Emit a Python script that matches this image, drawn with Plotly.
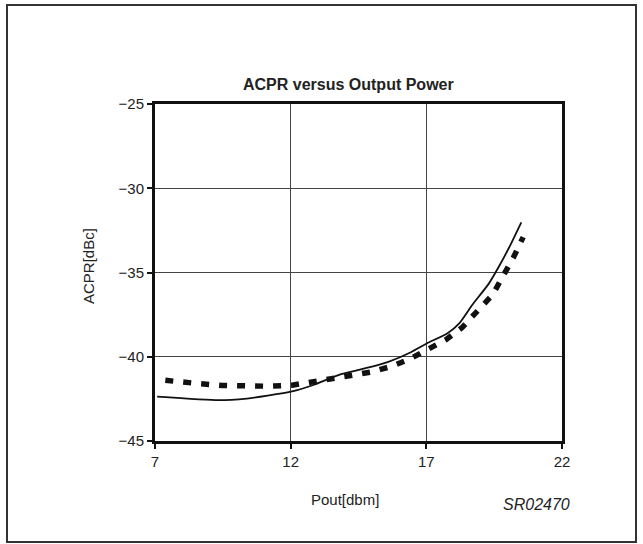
import plotly.graph_objects as go

# Solid curve
pout_solid = [7.08, 9.34, 10.39, 11.15, 12.05, 12.81, 13.86, 14.92, 15.6, 16.43,
              17.03, 17.78, 18.24, 18.69, 19.29, 19.67, 20.12, 20.5]
acpr_solid = [-42.37, -42.58, -42.48, -42.31, -42.06, -41.69, -41.03, -40.62, -40.3, -39.73,
              -39.2, -38.6, -37.97, -36.93, -35.69, -34.66, -33.3, -32.03]

# Dotted curve
pout_dot = [7.38, 7.83, 8.58, 9.49, 10.39, 11.22, 12.05, 12.88, 13.64, 14.47, 15.0,
            15.75, 16.43, 17.1, 17.71, 18.31, 18.92, 19.45, 19.8, 20.2, 20.57]
acpr_dot = [-41.4, -41.5, -41.59, -41.7, -41.75, -41.75, -41.69, -41.48, -41.28, -41.07, -40.9,
            -40.55, -40.1, -39.52, -39.0, -38.28, -37.24, -36.31, -35.28, -34.14, -32.9]

x_ticks = [7, 12, 17, 22]
y_ticks = [-45, -40, -35, -30, -25]

FONT = "Liberation Sans, Arial, sans-serif"
INK = "#222222"

fig = go.Figure()
fig.add_trace(go.Scatter(x=pout_solid, y=acpr_solid, mode="lines",
                         line=dict(color="#111111", width=1.8, shape="spline", smoothing=0.5),
                         showlegend=False))
fig.add_trace(go.Scatter(x=pout_dot, y=acpr_dot, mode="lines",
                         line=dict(color="#111111", width=5.5, dash="8px,10px"), showlegend=False))

L, R, T, B = 155, 81, 104, 103
W, H = 643, 544
pw, ph = W - L - R, H - T - B

def px(x):
    return (x - L) / pw

def py(y):
    return (H - B - y) / ph

fig.update_layout(
    width=W, height=H,
    margin=dict(l=L, r=R, t=T, b=B),
    paper_bgcolor="white", plot_bgcolor="white",
    font=dict(family=FONT, size=15, color=INK),
    xaxis=dict(range=[7, 22], tickvals=x_ticks, showgrid=True, gridcolor="#444444", gridwidth=1,
               showline=True, linecolor="#111111", linewidth=3, mirror=True,
               ticks="outside", ticklen=5, tickwidth=1.5, tickcolor="#111111",
               zeroline=False, tickfont=dict(size=15, color=INK)),
    yaxis=dict(range=[-45, -25], tickvals=y_ticks, showgrid=True, gridcolor="#444444", gridwidth=1,
               showline=True, linecolor="#111111", linewidth=3, mirror=True,
               ticks="outside", ticklen=5, tickwidth=1.5, tickcolor="#111111",
               zeroline=False, tickfont=dict(size=15, color=INK)),
    shapes=[dict(type="rect", xref="paper", yref="paper",
                 x0=px(7), x1=px(636), y0=py(542), y1=py(5),
                 line=dict(color="#333333", width=2), fillcolor="rgba(0,0,0,0)", layer="below")],
    annotations=[
        dict(text="<b>ACPR versus Output Power</b>", xref="paper", yref="paper",
             x=px(348), y=py(85), showarrow=False, font=dict(size=16, color=INK),
             xanchor="center", yanchor="middle"),
        dict(text="Pout[dbm]", xref="paper", yref="paper",
             x=px(345), y=py(499), showarrow=False, font=dict(size=15, color=INK),
             xanchor="center", yanchor="middle"),
        dict(text="<i>SR02470</i>", xref="paper", yref="paper",
             x=px(536), y=py(505), showarrow=False, font=dict(size=16, color=INK),
             xanchor="center", yanchor="middle"),
        dict(text="ACPR[dBc]", xref="paper", yref="paper",
             x=px(88), y=py(266), showarrow=False, textangle=-90, font=dict(size=15, color=INK),
             xanchor="center", yanchor="middle"),
    ],
)

fig.write_html("out.html", config={"displayModeBar": False},
               post_script="document.body.style.margin='0px';")
